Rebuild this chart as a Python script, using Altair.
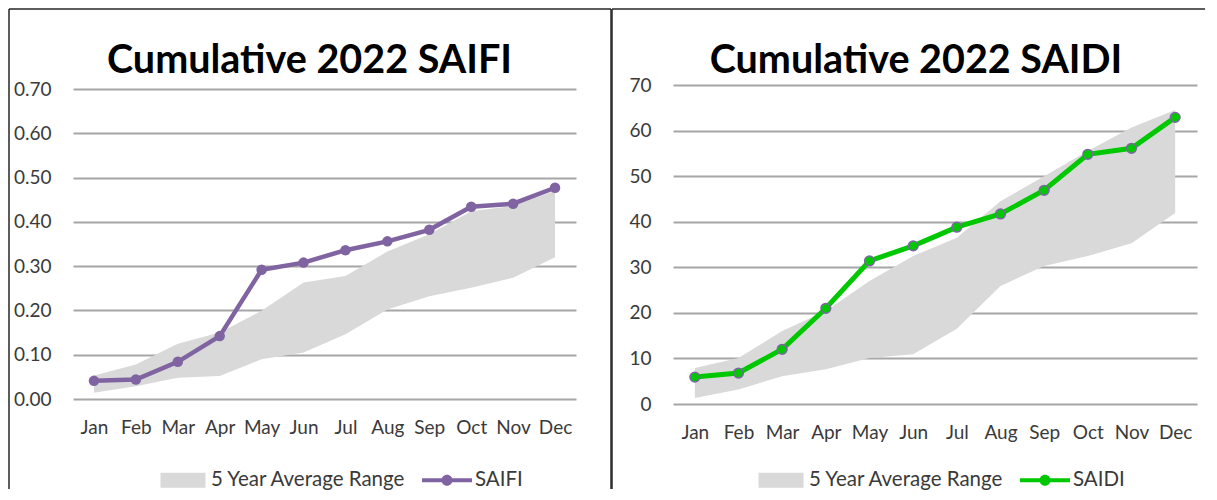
import altair as alt
import pandas as pd

# ---------------- data ----------------
months = ["Jan", "Feb", "Mar", "Apr", "May", "Jun", "Jul", "Aug", "Sep", "Oct", "Nov", "Dec"]

saifi = [0.041, 0.044, 0.084, 0.142, 0.292, 0.308, 0.336, 0.356, 0.382, 0.434, 0.441, 0.477]
saifi_low = [0.014, 0.029, 0.048, 0.052, 0.090, 0.105, 0.146, 0.202, 0.232, 0.251, 0.274, 0.320]
saifi_high = [0.053, 0.078, 0.125, 0.150, 0.199, 0.263, 0.278, 0.333, 0.372, 0.424, 0.436, 0.470]

saidi = [5.9, 6.8, 12.0, 21.0, 31.4, 34.7, 38.8, 41.7, 46.9, 54.8, 56.1, 62.9]
saidi_low = [1.3, 3.2, 6.1, 7.6, 10.1, 10.9, 16.5, 25.9, 30.3, 32.5, 35.3, 41.9]
saidi_high = [7.9, 10.1, 16.0, 20.4, 27.0, 32.5, 36.5, 44.5, 50.0, 55.5, 60.7, 64.5]

saifi_ticks = [0.0, 0.1, 0.2, 0.3, 0.4, 0.5, 0.6, 0.7]
saidi_ticks = [0, 10, 20, 30, 40, 50, 60, 70]

band_label = "5 Year Average Range"

# ---------------- style ----------------
FONT = "Lato"
LBL = 19
LEG = 20.5
TXT = "#3a3a3a"
GRID = "#a6a6a6"
BAND = "#d9d9d9"
PURPLE = "#8064a2"
GREEN = "#00c800"
BORDER = "#262626"

RECT_PATH = "M-0.9,-0.3H0.9V0.3H-0.9Z"
LINE_PATH = ("M-1,-0.08H-0.2V0.08H-1Z M0.2,-0.08H1V0.08H0.2Z "
             "M-0.22,0A0.22,0.22,0,1,1,0.22,0A0.22,0.22,0,1,1,-0.22,0Z")


def panel(title, name, vals, low, high, ticks, fmt, dom_max, width, height,
          color, line_w, circle_kw, title_dx, leg_x, leg_y, frame, right_line):
    df = pd.DataFrame({"month": months, "value": vals, "low": low, "high": high})
    xaxis = alt.Axis(title=None, labelAngle=0, domain=False, ticks=False, tickSize=0,
                     labelPadding=19, labelFont=FONT, labelFontSize=LBL, labelColor=TXT,
                     grid=False)
    x = alt.X("month:O", sort=months, scale=alt.Scale(domain=months), axis=xaxis)
    yscale = alt.Scale(domain=[0, dom_max], nice=False, zero=True)
    yaxis = alt.Axis(title=None, values=ticks, format=fmt, domain=False, ticks=False,
                     tickSize=0, labelPadding=22, labelFont=FONT, labelFontSize=LBL,
                     labelColor=TXT, grid=True, gridColor=GRID, gridWidth=2)
    base = alt.Chart(df)
    band = base.mark_area(color=BAND, opacity=1).encode(
        x=x, y=alt.Y("low:Q", scale=yscale, axis=yaxis), y2="high:Q")
    line = base.mark_line(color=color, strokeWidth=line_w).encode(
        x=x, y=alt.Y("value:Q", scale=yscale, axis=yaxis))
    pts = base.mark_circle(opacity=1, **circle_kw).encode(
        x=x, y=alt.Y("value:Q", scale=yscale, axis=yaxis))

    field = "series_" + name
    leg = alt.Legend(title=None, orient="none", legendX=leg_x, legendY=leg_y,
                     direction="horizontal", symbolSize=2500, symbolStrokeWidth=0,
                     labelOffset=3, columnPadding=15, labelFont=FONT, labelFontSize=LEG,
                     labelColor=TXT, labelLimit=400, padding=0)
    leg_df = pd.DataFrame({field: [band_label, name]})
    legend_layer = alt.Chart(leg_df).transform_filter("false").mark_point(
        filled=True, opacity=1).encode(
        fill=alt.Fill(field + ":N", scale=alt.Scale(domain=[band_label, name], range=[BAND, color]),
                      legend=leg),
        shape=alt.Shape(field + ":N", scale=alt.Scale(domain=[band_label, name],
                                                     range=[RECT_PATH, LINE_PATH]),
                        legend=leg))

    one = pd.DataFrame({"k": [0]})
    fl, fr, ft, fb = frame
    borders = [
        alt.Chart(one).mark_rule(color=BORDER, strokeWidth=1.5).encode(
            x=alt.value(fl), x2=alt.value(fr), y=alt.value(ft)),
        alt.Chart(one).mark_rule(color=BORDER, strokeWidth=1.5).encode(
            x=alt.value(fl), y=alt.value(ft), y2=alt.value(fb)),
    ]
    if right_line:
        borders.append(alt.Chart(one).mark_rule(color=BORDER, strokeWidth=1.5).encode(
            x=alt.value(fr), y=alt.value(ft), y2=alt.value(fb)))

    return alt.layer(band, line, pts, legend_layer, *borders).properties(
        width=width, height=height,
        title=alt.TitleParams(title, font=FONT, fontSize=39.5, fontWeight="bold", color="#000000",
                              anchor="middle", dx=title_dx, offset=-73))


left = panel("Cumulative 2022 SAIFI", "SAIFI", saifi, saifi_low, saifi_high, saifi_ticks, ".2f",
             0.7 * 314 / 310, 503, 314, PURPLE, 4.5,
             dict(color=PURPLE, size=110), -15, 85, 370, (-64, 538, -76, 404), True)

right = panel("Cumulative 2022 SAIDI", "SAIDI", saidi, saidi_low, saidi_high, saidi_ticks, "d",
              70, 524, 319, GREEN, 5,
              dict(color=GREEN, size=95, stroke="#7f64a8", strokeWidth=1.5), -19, 83, 370,
              (-61, 532, -76, 404), False)

chart = alt.hconcat(left, right, spacing=97, bounds="flush").resolve_scale(
    fill="independent", shape="independent"
).resolve_legend(
    fill="independent", shape="independent"
).properties(
    padding=0, background="white"
).configure_view(stroke=None)

chart.save("out.html", embed_options={"renderer": "svg", "actions": False})
